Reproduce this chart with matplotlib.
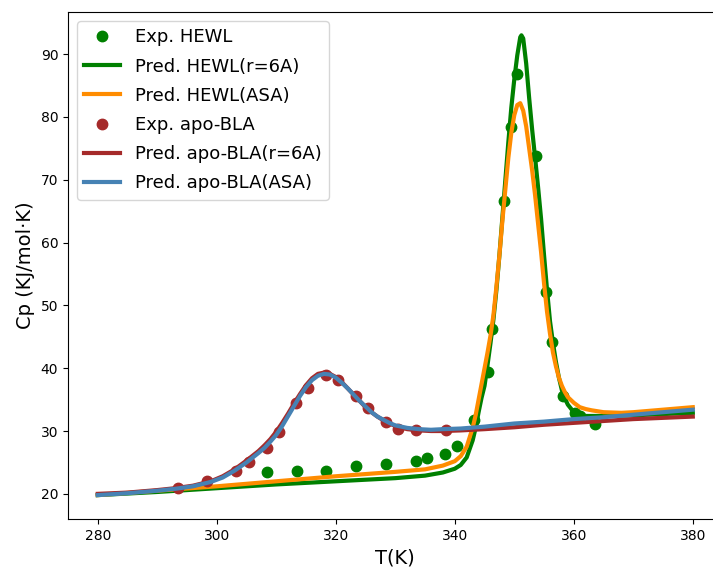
import matplotlib
matplotlib.use("Agg")
import matplotlib.pyplot as plt

# Experimental heat capacity, HEWL
exp_hewl_T = [308.4, 313.4, 318.3, 323.4, 328.5, 333.4, 335.4, 338.4, 340.3, 343.2,
              345.5, 346.3, 348.3, 349.4, 350.4, 353.6, 355.3, 356.4, 358.2, 360.2,
              361.0, 363.6]
exp_hewl_Cp = [23.4, 23.7, 23.6, 24.5, 24.8, 25.3, 25.7, 26.4, 27.6, 31.8,
               39.4, 46.2, 66.7, 78.4, 86.9, 73.8, 52.2, 44.2, 35.6, 32.8,
               32.4, 31.1]

# Predicted HEWL, r = 6A
pred_hewl_r6_T = [280, 290, 300, 310, 320, 330, 335, 338, 340, 341, 342, 343, 343.5,
                  344, 344.5, 345, 345.5, 346, 346.5, 347, 347.5, 348, 348.5, 349,
                  349.5, 350, 350.5, 351, 351.2, 351.5, 352, 352.5, 353, 353.5, 354,
                  354.5, 355, 355.5, 356, 356.5, 357, 357.5, 358, 358.5, 359, 360,
                  361, 362, 365, 370, 375, 380]
pred_hewl_r6_Cp = [19.8, 20.3, 20.9, 21.5, 22.0, 22.5, 22.9, 23.4, 24.0, 24.6, 25.8,
                   28.5, 30.5, 33.0, 35.3, 37.2, 40.5, 44.0, 47.8, 52.5, 58.0, 64.0,
                   70.0, 76.0, 81.5, 86.0, 89.8, 92.7, 93.0, 92.5, 88.5, 83.0, 78.0,
                   73.5, 68.8, 63.8, 58.0, 52.5, 47.5, 44.0, 41.0, 38.5, 36.5, 35.2,
                   34.2, 33.0, 32.6, 32.4, 32.4, 32.5, 32.7, 32.9]

# Predicted HEWL, ASA
pred_hewl_asa_T = [280, 290, 300, 310, 320, 330, 335, 338, 340, 341, 342, 343, 343.5,
                   344, 344.5, 345, 345.5, 346, 346.5, 347, 347.5, 348, 348.5, 349,
                   349.5, 350, 350.5, 351, 351.5, 352, 352.5, 353, 353.5, 354, 354.5,
                   355, 355.5, 356, 356.5, 357, 357.5, 358, 358.5, 359, 360, 361, 362,
                   363, 365, 368, 370, 375, 380]
pred_hewl_asa_Cp = [19.8, 20.5, 21.2, 22.0, 22.8, 23.5, 23.9, 24.5, 25.2, 26.0, 27.5,
                    30.5, 32.5, 35.0, 37.5, 40.0, 42.5, 45.2, 48.5, 53.0, 58.0, 63.5,
                    68.5, 73.5, 77.5, 80.3, 81.9, 82.2, 81.0, 78.5, 75.0, 71.5, 67.5,
                    63.0, 58.5, 53.5, 49.0, 45.5, 42.5, 40.3, 38.5, 37.2, 36.2, 35.4,
                    34.5, 33.8, 33.5, 33.3, 33.0, 32.9, 33.0, 33.4, 33.8]

# Experimental heat capacity, apo-BLA
exp_bla_T = [293.4, 298.4, 303.3, 305.4, 308.4, 310.5, 313.3, 315.4, 318.3, 320.3,
             323.4, 325.4, 328.5, 330.4, 333.4, 338.5]
exp_bla_Cp = [20.9, 22.0, 23.7, 25.0, 27.3, 29.8, 34.4, 36.9, 38.9, 38.2,
              35.5, 33.6, 31.5, 30.4, 30.1, 30.1]

# Predicted apo-BLA, r = 6A
pred_bla_r6_T = [280, 285, 290, 293, 296, 299, 301, 303, 305, 307, 308, 309, 310, 311,
                 312, 313, 314, 315, 316, 317, 318, 319, 320, 321, 322, 323, 324, 325,
                 326, 327, 328, 329, 330, 332, 334, 336, 338, 341, 345, 350, 355, 360,
                 365, 370, 375, 380]
pred_bla_r6_Cp = [20.0, 20.2, 20.6, 20.9, 21.3, 22.0, 22.8, 23.9, 25.3, 26.8, 27.7,
                  28.7, 29.9, 31.3, 32.8, 34.4, 35.9, 37.3, 38.4, 39.1, 39.3, 39.1,
                  38.6, 37.8, 36.8, 35.8, 34.8, 33.8, 33.0, 32.3, 31.7, 31.2, 30.8,
                  30.3, 30.1, 30.0, 30.0, 30.1, 30.3, 30.6, 31.0, 31.3, 31.6, 31.9,
                  32.1, 32.3]

# Predicted apo-BLA, ASA
pred_bla_asa_T = [280, 285, 290, 293, 296, 299, 301, 303, 305, 307, 308, 309, 310, 311,
                  312, 313, 314, 315, 316, 317, 318, 319, 320, 321, 322, 323, 324, 325,
                  326, 327, 328, 329, 330, 332, 334, 336, 338, 341, 345, 350, 355, 360,
                  365, 370, 375, 380]
pred_bla_asa_Cp = [19.8, 20.1, 20.5, 20.8, 21.2, 21.9, 22.6, 23.7, 25.0, 26.5, 27.3,
                   28.3, 29.4, 30.8, 32.4, 34.0, 35.6, 37.0, 38.1, 38.8, 39.1, 39.0,
                   38.5, 37.7, 36.8, 35.8, 34.8, 33.9, 33.0, 32.3, 31.8, 31.3, 30.9,
                   30.5, 30.3, 30.2, 30.3, 30.4, 30.7, 31.2, 31.5, 31.9, 32.2, 32.6,
                   33.0, 33.4]


def draw_cp():
    fig = plt.figure(figsize=(7.13, 5.67), dpi=100)
    ax = fig.add_axes([0.0954, 0.0847, 0.918, 0.894])

    ax.plot(exp_hewl_T, exp_hewl_Cp, "o", color="green", markersize=7.5,
            label="Exp. HEWL")
    ax.plot(pred_hewl_r6_T, pred_hewl_r6_Cp, color="green", linewidth=3,
            label="Pred. HEWL(r=6A)")
    ax.plot(pred_hewl_asa_T, pred_hewl_asa_Cp, color="darkorange", linewidth=3,
            label="Pred. HEWL(ASA)")
    ax.plot(exp_bla_T, exp_bla_Cp, "o", color="brown", markersize=7.5,
            label="Exp. apo-BLA")
    ax.plot(pred_bla_r6_T, pred_bla_r6_Cp, color="brown", linewidth=3,
            label="Pred. apo-BLA(r=6A)")
    ax.plot(pred_bla_asa_T, pred_bla_asa_Cp, color="steelblue", linewidth=3,
            label="Pred. apo-BLA(ASA)")

    ax.set_xlim(275, 385)
    ax.set_ylim(16.0, 96.7)
    ax.set_xticks([280, 300, 320, 340, 360, 380])
    ax.set_yticks([20, 30, 40, 50, 60, 70, 80, 90])
    ax.set_xlabel("T(K)", fontsize=14)
    ax.set_ylabel("Cp (KJ/mol·K)", fontsize=14)
    ax.legend(loc="upper left", fontsize=13, labelspacing=0.62)

    fig.savefig("out.png", dpi=100)


if __name__ == "__main__":
    draw_cp()
